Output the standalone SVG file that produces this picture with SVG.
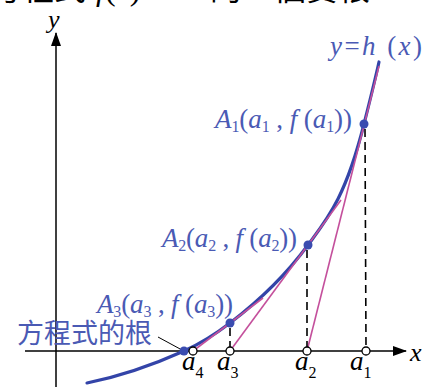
<svg xmlns="http://www.w3.org/2000/svg" width="426" height="387" viewBox="0 0 426 387">
<style>
.ax{stroke:#000;stroke-width:1.5;fill:none}
.dash{stroke:#000;stroke-width:1.6;stroke-dasharray:8 5;fill:none}
.tan{stroke:#c4509c;stroke-width:1.6;fill:none}
.curve{stroke:#3344a8;stroke-width:3.2;fill:none;stroke-linecap:round}
.dot{fill:#3a4cb0}
.open{fill:#fff;stroke:#000;stroke-width:1.3}
.lbl{font-family:"Liberation Serif",serif;font-size:27px;fill:#4a5ab4}
.alab{font-family:"Liberation Serif",serif;font-size:27px;fill:#000}
.it{font-style:italic}
.sub{font-size:16px;font-style:normal}
.cjk{font-family:"Noto Sans CJK TC","Noto Sans CJK SC",sans-serif}
</style>
<defs>
<marker id="arr" markerWidth="14" markerHeight="10" refX="13" refY="5" orient="auto" markerUnits="userSpaceOnUse">
<path d="M0,0 L14,5 L0,10 Z" fill="#000"/>
</marker>
</defs>
<g id="title">
<text x="-10" y="0" class="cjk" font-size="32" fill="#000">方程式</text>
<text x="96" y="0" font-family="Liberation Serif,serif" font-size="32" fill="#000"><tspan font-style="italic">f</tspan>(<tspan font-style="italic">x</tspan>) = 0</text>
<text x="210" y="0" class="cjk" font-size="32" fill="#000">的一個實根</text>
</g>
<g id="axes">
<line class="ax" x1="56" y1="387" x2="56" y2="33" marker-end="url(#arr)"/>
<line class="ax" x1="25" y1="351" x2="406" y2="351" marker-end="url(#arr)"/>
<text x="48" y="28" font-family="Liberation Serif,serif" font-style="italic" font-size="26" fill="#000">y</text>
<text x="410" y="361" font-family="Liberation Serif,serif" font-style="italic" font-size="26" fill="#000">x</text>
</g>
<g id="connectors">
<path class="curve" d="M87,383 C119.3,376.5 151.7,365.5 184,351 C199.3,344.1 214.7,334.7 230,323 C256,303.2 282,280.4 308,245 C326.7,219.6 345.3,198.3 364,124 C369,104.1 374,84.5 379,62"/>
<line class="tan" x1="379" y1="66" x2="307" y2="351"/>
<line class="tan" x1="341" y1="200" x2="230" y2="351"/>
<line class="tan" x1="263" y1="298" x2="193" y2="351"/>
<line class="dash" x1="365" y1="129" x2="366" y2="347"/>
<line class="dash" x1="307" y1="250" x2="307" y2="347"/>
<line class="dash" x1="230" y1="328" x2="230" y2="347"/>
<line x1="158" y1="337" x2="182" y2="350" stroke="#000" stroke-width="1"/>
</g>
<g id="curve-label">
<text class="lbl" x="330" y="55" font-size="28" textLength="92" lengthAdjust="spacing"><tspan class="it">y</tspan>=<tspan class="it">h</tspan> (<tspan class="it">x</tspan>)</text>
</g>
<g id="A1">
<circle class="dot" cx="364" cy="124" r="4.5"/>
<text class="lbl" x="215" y="128" textLength="137" lengthAdjust="spacing"><tspan class="it">A</tspan><tspan class="sub" dy="4">1</tspan><tspan dy="-4">(</tspan><tspan class="it">a</tspan><tspan class="sub" dy="4">1</tspan><tspan dy="-4"> , </tspan><tspan class="it">f</tspan> (<tspan class="it">a</tspan><tspan class="sub" dy="4">1</tspan><tspan dy="-4">))</tspan></text>
</g>
<g id="A2">
<circle class="dot" cx="308" cy="245" r="4.5"/>
<text class="lbl" x="162" y="247" textLength="135" lengthAdjust="spacing"><tspan class="it">A</tspan><tspan class="sub" dy="4">2</tspan><tspan dy="-4">(</tspan><tspan class="it">a</tspan><tspan class="sub" dy="4">2</tspan><tspan dy="-4"> , </tspan><tspan class="it">f</tspan> (<tspan class="it">a</tspan><tspan class="sub" dy="4">2</tspan><tspan dy="-4">))</tspan></text>
</g>
<g id="A3">
<circle class="dot" cx="230" cy="323" r="4.5"/>
<text class="lbl" x="97" y="313" textLength="136" lengthAdjust="spacing"><tspan class="it">A</tspan><tspan class="sub" dy="4">3</tspan><tspan dy="-4">(</tspan><tspan class="it">a</tspan><tspan class="sub" dy="4">3</tspan><tspan dy="-4"> , </tspan><tspan class="it">f</tspan> (<tspan class="it">a</tspan><tspan class="sub" dy="4">3</tspan><tspan dy="-4">))</tspan></text>
</g>
<g id="root">
<circle class="dot" cx="184" cy="351" r="4.5"/>
<text class="cjk" x="17" y="343" font-size="27" fill="#4a5ab4">方程式的根</text>
</g>
<g id="a4"><circle class="open" cx="193" cy="351" r="4"/><text class="alab" x="182" y="370"><tspan class="it">a</tspan><tspan class="sub" dy="8">4</tspan></text></g>
<g id="a3"><circle class="open" cx="230" cy="351" r="4"/><text class="alab" x="217" y="370"><tspan class="it">a</tspan><tspan class="sub" dy="8">3</tspan></text></g>
<g id="a2"><circle class="open" cx="307" cy="351" r="4"/><text class="alab" x="295" y="370"><tspan class="it">a</tspan><tspan class="sub" dy="8">2</tspan></text></g>
<g id="a1"><circle class="open" cx="366" cy="351" r="4"/><text class="alab" x="350" y="370"><tspan class="it">a</tspan><tspan class="sub" dy="8">1</tspan></text></g>
</svg>
